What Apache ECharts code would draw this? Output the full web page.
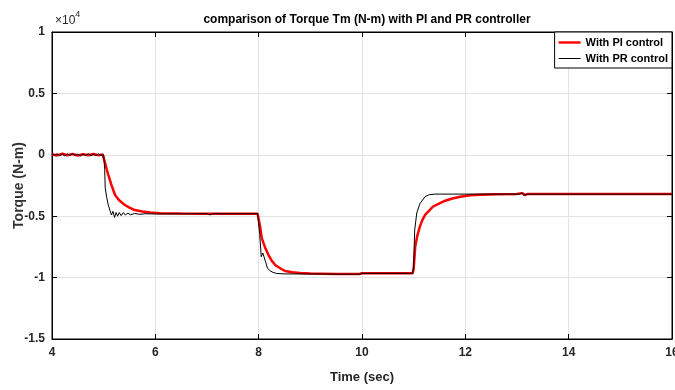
<!DOCTYPE html>
<html>
<head>
<meta charset="utf-8">
<script src="https://cdn.jsdelivr.net/npm/echarts@6/dist/echarts.min.js"></script>
<style>
  html, body { margin: 0; padding: 0; background: #fff; }
  #chart { width: 675px; height: 390px; }
</style>
</head>
<body>
<div id="chart"></div>
<script>
// torque in N-m, time in seconds
const piTime = [4.00, 4.10, 4.20, 4.30, 4.40, 4.50, 4.60, 4.70, 4.80, 4.90, 4.98, 5.00, 5.03, 5.06, 5.09, 5.15, 5.22, 5.30, 5.41, 5.50, 5.60, 5.75, 5.90, 6.10, 6.50, 7.00, 7.50, 7.98, 8.00, 8.03, 8.06, 8.12, 8.19, 8.25, 8.32, 8.40, 8.51, 8.65, 8.80, 9.00, 9.50, 9.96, 10.00, 10.50, 10.98, 11.00, 11.03, 11.07, 11.12, 11.17, 11.22, 11.30, 11.37, 11.50, 11.61, 11.75, 11.90, 12.10, 12.30, 12.60, 13.00, 13.10, 13.15, 13.20, 14.00, 15.00, 16.00];
const piTorque = [50, -50, 80, -40, 60, -60, 40, -30, 70, -40, 30, 0, -700, -1200, -1640, -2450, -3270, -3700, -4090, -4300, -4500, -4620, -4700, -4760, -4790, -4800, -4810, -4800, -4900, -5900, -6780, -7500, -8160, -8600, -8980, -9200, -9460, -9560, -9620, -9660, -9700, -9700, -9650, -9650, -9640, -9300, -7480, -6600, -5850, -5300, -4900, -4550, -4230, -3950, -3740, -3560, -3410, -3300, -3250, -3210, -3200, -3120, -3280, -3200, -3200, -3200, -3200];

const prTime = [4.00, 4.05, 4.10, 4.15, 4.20, 4.25, 4.30, 4.35, 4.40, 4.45, 4.50, 4.55, 4.60, 4.65, 4.70, 4.75, 4.80, 4.85, 4.90, 4.95, 5.00, 5.02, 5.03, 5.06, 5.09, 5.12, 5.15, 5.18, 5.21, 5.24, 5.27, 5.30, 5.34, 5.38, 5.42, 5.47, 5.52, 5.60, 5.70, 5.80, 6.00, 7.00, 7.06, 7.10, 7.98, 8.00, 8.02, 8.05, 8.08, 8.11, 8.14, 8.17, 8.22, 8.28, 8.35, 8.50, 9.96, 10.00, 10.98, 11.00, 11.02, 11.06, 11.12, 11.22, 11.30, 11.41, 13.05, 13.10, 13.13, 13.16, 13.20, 16.00];
const prTorque = [80, -60, 100, -80, 60, -100, 80, -50, 90, -70, 60, -90, 70, -60, 100, -80, 50, -70, 80, -60, 0, -1200, -2700, -3500, -4100, -4500, -4900, -4600, -5100, -4700, -5000, -4700, -4950, -4700, -4900, -4750, -4880, -4780, -4850, -4800, -4820, -4800, -4900, -4800, -4800, -4900, -6500, -8300, -8000, -8400, -8800, -9220, -9450, -9580, -9660, -9700, -9720, -9650, -9650, -9000, -6120, -4740, -3990, -3410, -3250, -3200, -3200, -3100, -3300, -3150, -3200, -3200];

const xTicks = [4, 6, 8, 10, 12, 14, 16];
const yTicks = [-15000, -10000, -5000, 0, 5000, 10000];

const pair = (ts, vs) => ts.map((t, i) => [t, vs[i]]);

const chart = echarts.init(document.getElementById('chart'));
const font = 'Liberation Sans, Arial, sans-serif';
const tickLabel = { color: '#262626', fontFamily: font, fontWeight: 'bold', fontSize: 12 };

const xBase = {
  type: 'value', min: xTicks[0], max: xTicks[xTicks.length - 1], interval: 2,
  axisLine: { show: true, onZero: false, lineStyle: { color: '#000', width: 1 } },
  axisTick: { show: true, inside: true, length: 5, lineStyle: { color: '#000' } },
  splitLine: { show: false },
};
const yBase = {
  type: 'value', min: yTicks[0], max: yTicks[yTicks.length - 1], interval: 5000,
  axisLine: { show: true, onZero: false, lineStyle: { color: '#000', width: 1 } },
  axisTick: { show: true, inside: true, length: 5, lineStyle: { color: '#000' } },
  splitLine: { show: false },
};

// thin legend strokes, padded so the box keeps its height
const iconPI = 'path://M0,0M0,3.8H22V6.2H0ZM22,10';
const iconPR = 'path://M0,0M0,4.5H22V5.5H0ZM22,10';

chart.setOption({
  animation: false,
  title: {
    text: 'comparison of Torque Tm (N-m) with PI and PR controller',
    left: 362, top: 9, textAlign: 'center',
    textStyle: { fontFamily: font, fontWeight: 'bold', fontSize: 12, color: '#000' },
  },
  grid: {
    left: 52, right: 3, top: 32, bottom: 51,
    outerBoundsMode: 'none', containLabel: false,
    show: true, borderColor: '#000', borderWidth: 1,
  },
  legend: {
    orient: 'vertical', right: 3, top: 32,
    backgroundColor: '#fff', borderColor: '#000', borderWidth: 1,
    padding: [5, 4, 4, 4], itemGap: 5, itemWidth: 22, itemHeight: 10,
    textStyle: { fontFamily: font, fontWeight: 'bold', fontSize: 11, color: '#000' },
    data: [
      { name: 'With PI control', icon: iconPI },
      { name: 'With PR control', icon: iconPR },
    ],
  },
  graphic: [{
    type: 'text', left: 55, top: 10,
    style: {
      text: '{a|×10}{b|4}', fill: '#262626',
      rich: {
        a: { fontFamily: font, fontSize: 12, color: '#262626', verticalAlign: 'bottom' },
        b: { fontFamily: font, fontSize: 9, color: '#262626', padding: [0, 0, 8, 0] },
      },
    },
  }],
  xAxis: [
    Object.assign({}, xBase, {
      position: 'bottom',
      name: 'Time (sec)', nameLocation: 'middle', nameGap: 32, nameMoveOverlap: false,
      nameTextStyle: { fontFamily: font, fontWeight: 'bold', fontSize: 13, color: '#262626' },
      axisLabel: Object.assign({ margin: 8 }, tickLabel),
      splitLine: { show: true, lineStyle: { color: '#e3e3e3', width: 1 } },
    }),
    Object.assign({}, xBase, { position: 'top', axisLabel: { show: false } }),
  ],
  yAxis: [
    Object.assign({}, yBase, {
      position: 'left',
      name: 'Torque (N-m)', nameLocation: 'middle', nameGap: 26, nameMoveOverlap: false,
      nameTextStyle: { fontFamily: font, fontWeight: 'bold', fontSize: 14, color: '#333' },
      axisLabel: Object.assign({ margin: 7, formatter: v => String(v / 10000) }, tickLabel),
      splitLine: { show: true, lineStyle: { color: '#e3e3e3', width: 1 } },
    }),
    Object.assign({}, yBase, { position: 'right', axisLabel: { show: false } }),
  ],
  series: [
    {
      name: 'With PI control', type: 'line', symbol: 'none',
      lineStyle: { color: '#ff0000', width: 2.5 }, itemStyle: { color: '#ff0000' },
      data: pair(piTime, piTorque),
    },
    {
      name: 'With PR control', type: 'line', symbol: 'none',
      lineStyle: { color: '#000', width: 1 }, itemStyle: { color: '#000' },
      data: pair(prTime, prTorque),
    },
  ],
});
</script>
</body>
</html>
